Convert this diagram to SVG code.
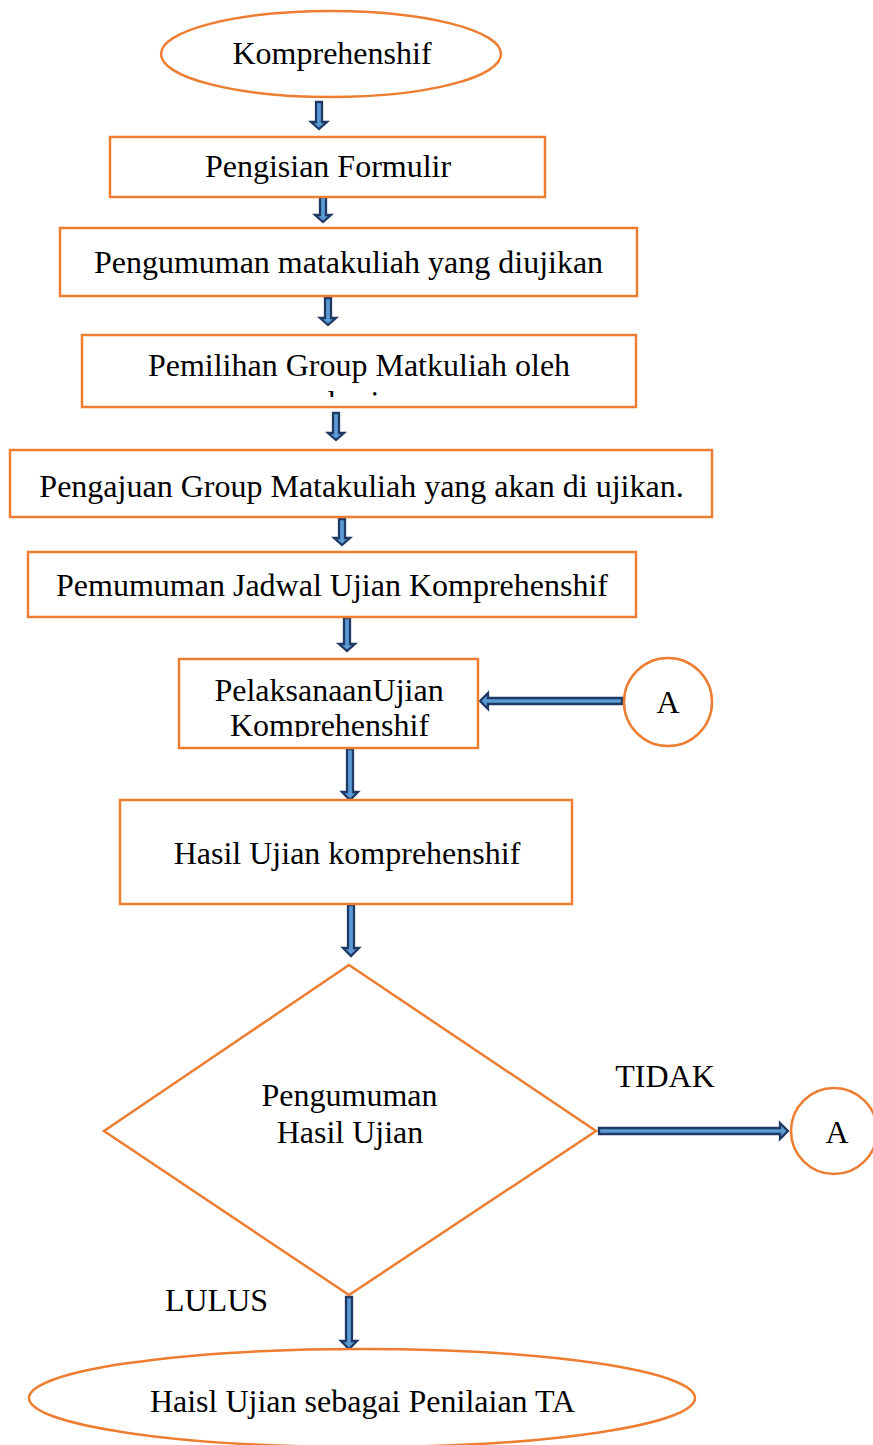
<svg xmlns="http://www.w3.org/2000/svg" width="873" height="1445" viewBox="0 0 873 1445">
<style>
  .shape { fill: #ffffff; stroke: #ED7D31; stroke-width: 2.5; }
  .lbl { font-family: "Liberation Serif", "Times New Roman", serif; font-size: 32px; fill: #000000; text-anchor: middle; }
  .arr { fill: #5B9BD5; stroke: #1F3864; stroke-width: 2.3; stroke-linejoin: miter; }
</style>
<defs>
  <clipPath id="clip4"><rect x="84" y="337" width="550" height="60"/></clipPath>
  <clipPath id="clip7"><rect x="181" y="661" width="295" height="76"/></clipPath>
</defs>
<rect width="873" height="1445" fill="#ffffff"/>

<g id="connectors">
  <path class="arr" d="M316,102 L322,102 L322,122 L327,122 L319,129 L311,122 L316,122 Z"/>
  <path class="arr" d="M320,197 L326,197 L326,215 L331,215 L323,222 L315,215 L320,215 Z"/>
  <path class="arr" d="M325,298 L331,298 L331,318 L336,318 L328,325 L320,318 L325,318 Z"/>
  <path class="arr" d="M333,413 L339,413 L339,433 L344,433 L336,440 L328,433 L333,433 Z"/>
  <path class="arr" d="M339,519 L345,519 L345,538 L350,538 L342,545 L334,538 L339,538 Z"/>
  <path class="arr" d="M344,618 L350,618 L350,644 L355,644 L347,651 L339,644 L344,644 Z"/>
  <path class="arr" d="M347,749 L353,749 L353,792 L358,792 L350,800 L342,792 L347,792 Z"/>
  <path class="arr" d="M348,905 L354,905 L354,948 L359,948 L351,956 L343,948 L348,948 Z"/>
  <path class="arr" d="M346,1297 L352,1297 L352,1341 L357,1341 L349,1349 L341,1341 L346,1341 Z"/>
  <path class="arr" d="M622,698 L622,704 L488,704 L488,709 L480,701 L488,693 L488,698 Z"/>
  <path class="arr" d="M599,1128 L599,1134 L780,1134 L780,1139 L788,1131 L780,1123 L780,1128 Z"/>
</g>

<g id="start">
  <ellipse class="shape" cx="331" cy="54" rx="170" ry="43"/>
  <text class="lbl" x="332" y="64">Komprehenshif</text>
</g>

<g id="formulir">
  <rect class="shape" x="110" y="137" width="435" height="60"/>
  <text class="lbl" x="328" y="177">Pengisian Formulir</text>
</g>

<g id="pengumuman-matkul">
  <rect class="shape" x="60" y="228" width="577" height="68"/>
  <text class="lbl" x="348.5" y="273">Pengumuman matakuliah yang diujikan</text>
</g>

<g id="pemilihan">
  <rect class="shape" x="82" y="335" width="554" height="72"/>
  <g clip-path="url(#clip4)">
    <text class="lbl" x="359" y="376">Pemilihan Group Matkuliah oleh</text>
    <text class="lbl" x="359" y="413">mahasiswa</text>
  </g>
</g>

<g id="pengajuan">
  <rect class="shape" x="10" y="450" width="702" height="67"/>
  <text class="lbl" x="361.5" y="497">Pengajuan Group Matakuliah yang akan di ujikan.</text>
</g>

<g id="jadwal">
  <rect class="shape" x="28" y="552" width="608" height="65"/>
  <text class="lbl" x="332" y="596">Pemumuman Jadwal Ujian Komprehenshif</text>
</g>

<g id="pelaksanaan">
  <rect class="shape" x="179" y="659" width="299" height="89"/>
  <g clip-path="url(#clip7)">
    <text class="lbl" x="329" y="701">PelaksanaanUjian</text>
    <text class="lbl" x="329.5" y="736">Komprehenshif</text>
  </g>
</g>

<g id="connector-a-top">
  <circle class="shape" cx="668" cy="702" r="44"/>
  <text class="lbl" x="668" y="713">A</text>
</g>

<g id="hasil">
  <rect class="shape" x="120" y="800" width="452" height="104"/>
  <text class="lbl" x="347" y="864" font-size="31">Hasil Ujian komprehenshif</text>
</g>

<g id="keputusan">
  <polygon class="shape" points="349,965 596,1131 349,1295 104,1131"/>
  <text class="lbl" x="349.5" y="1106">Pengumuman</text>
  <text class="lbl" x="350" y="1143">Hasil Ujian</text>
</g>

<g id="label-tidak">
  <text class="lbl" x="665" y="1087">TIDAK</text>
</g>

<g id="connector-a-right">
  <circle class="shape" cx="834" cy="1131" r="43"/>
  <text class="lbl" x="837" y="1143">A</text>
</g>

<g id="label-lulus">
  <text class="lbl" x="216.5" y="1311">LULUS</text>
</g>

<g id="end">
  <ellipse class="shape" cx="362" cy="1398" rx="333" ry="49"/>
  <text class="lbl" x="362.5" y="1412">Haisl Ujian sebagai Penilaian TA</text>
</g>
</svg>
